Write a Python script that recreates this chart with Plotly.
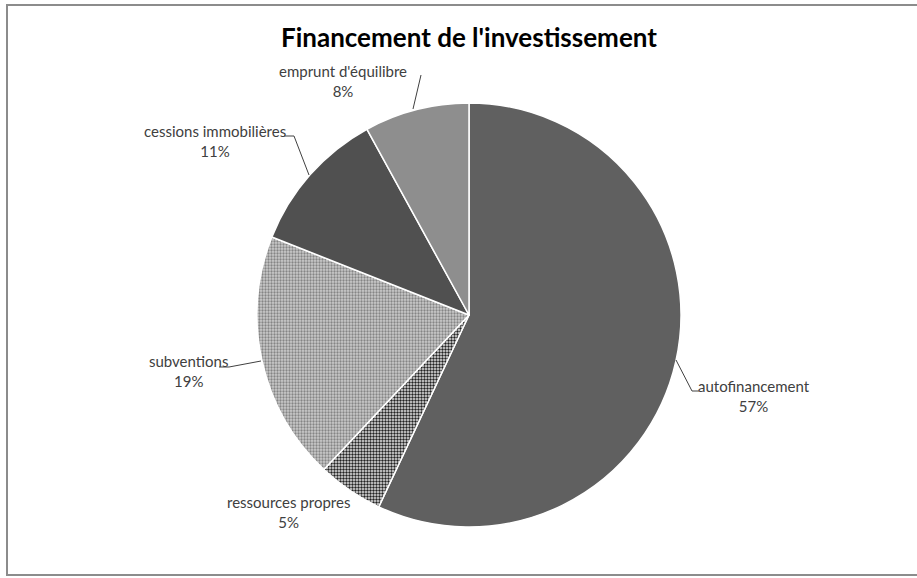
import plotly.graph_objects as go

labels = ["autofinancement", "ressources propres", "subventions", "cessions immobilières", "emprunt d'équilibre"]
values = [57, 5, 19, 11, 8]
pct_labels = ["57%", "5%", "19%", "11%", "8%"]
title_text = "Financement de l'investissement"

W, H = 917, 578
FONT = "Lato"

def px(x, y):
    return x / W, 1 - y / H

colors = ["#606060", "#d8d8d8", "#cfcfcf", "#505050", "#8e8e8e"]
pattern_shapes = ["", ".", ".", "", ""]
pattern_fg = ["#606060", "#222222", "#858585", "#505050", "#8e8e8e"]
pattern_bg = ["#606060", "#e8e8e8", "#cbcbcb", "#505050", "#8e8e8e"]
pattern_size = [4, 3, 3, 4, 4]
pattern_sol = [0.3, 0.5, 0.45, 0.3, 0.3]

cx, cy, r = 469, 315, 212
x0, y1 = px(cx - r, cy - r)
x1, y0 = px(cx + r, cy + r)

fig = go.Figure(go.Pie(
    labels=labels, values=values, sort=False, direction="clockwise", rotation=0,
    textinfo="none", hoverinfo="label+percent", showlegend=False,
    marker=dict(colors=colors, line=dict(color="white", width=1.5),
                pattern=dict(shape=pattern_shapes, fgcolor=pattern_fg, bgcolor=pattern_bg,
                             size=pattern_size, solidity=pattern_sol, fillmode="replace")),
    domain=dict(x=[x0, x1], y=[y0, y1]),
))

# label positions (layout), text from data
label_pos = [(754, 396), (288, 512), (188, 371), (215, 141), (343, 81)]
annotations = []
for (lx, ly), name, pct in zip(label_pos, labels, pct_labels):
    ax_, ay_ = px(lx, ly)
    annotations.append(dict(x=ax_, y=ay_, xref="paper", yref="paper", showarrow=False,
                            xanchor="center", yanchor="middle",
                            text=f"{name}<br>{pct}", align="center",
                            font=dict(family=FONT, size=15, color="#404040")))
tx, ty = px(469, 37)
annotations.append(dict(x=tx, y=ty, xref="paper", yref="paper", showarrow=False,
                        xanchor="center", yanchor="middle",
                        text=f"<b>{title_text}</b>",
                        font=dict(family=FONT, size=26, color="#000000")))

leaders = [
    [(676, 360), (692, 391), (699, 391)],
    [(219, 367), (229, 367), (261, 361)],
    [(284, 136), (294, 136), (309, 175)],
    [(421, 75), (413, 109)],
]
shapes = []
for pts in leaders:
    path = ""
    for i, (x, y) in enumerate(pts):
        X, Y = px(x, y)
        path += ("M" if i == 0 else "L") + f" {X} {Y} "
    shapes.append(dict(type="path", xref="paper", yref="paper", path=path,
                       line=dict(color="#404040", width=1)))
bx0, by1 = px(7, 5)
bx1, by0 = px(930, 575)
shapes.append(dict(type="rect", xref="paper", yref="paper", x0=bx0, y0=by0, x1=bx1, y1=by1,
                   line=dict(color="#8c8c8c", width=2), fillcolor="rgba(0,0,0,0)"))

fig.update_layout(width=W, height=H, margin=dict(l=0, r=0, t=0, b=0),
                  paper_bgcolor="white", plot_bgcolor="white",
                  annotations=annotations, shapes=shapes)

fig.write_html("out.html", config={"displayModeBar": False})
with open("out.html", encoding="utf-8") as f:
    html = f.read()
html = html.replace("<body>", '<body style="margin:0;padding:0;overflow:hidden">', 1)
html = html.replace("<head>", "<head><style>html,body{margin:0;padding:0;}</style>", 1)
with open("out.html", "w", encoding="utf-8") as f:
    f.write(html)
